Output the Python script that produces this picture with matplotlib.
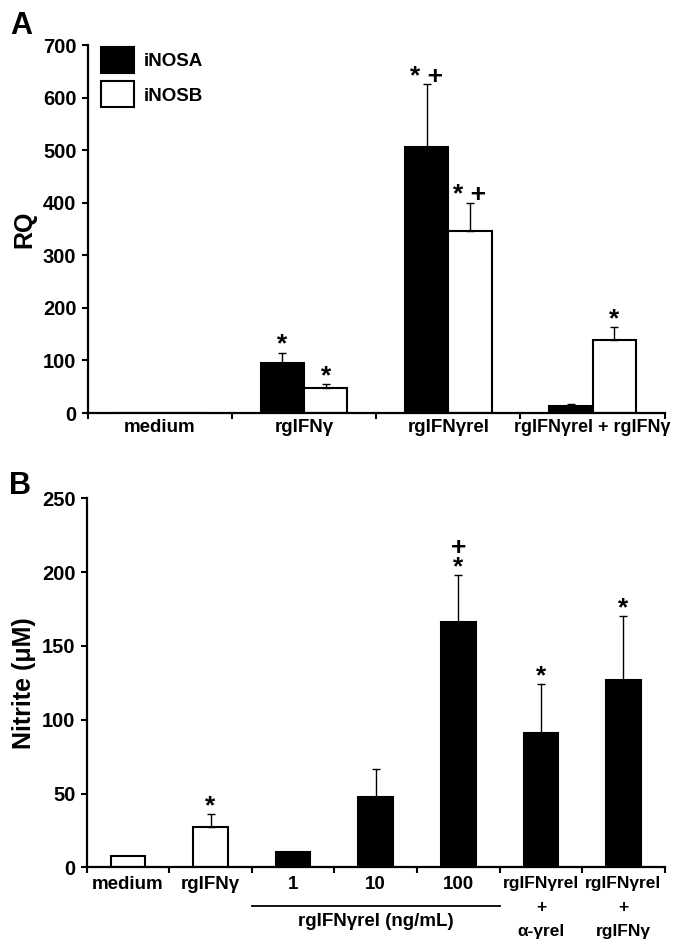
import matplotlib.pyplot as plt
import numpy as np

plt.rcParams['font.family'] = ['Liberation Sans', 'DejaVu Sans']
plt.rcParams['font.weight'] = 'bold'
plt.rcParams['axes.labelweight'] = 'bold'

# panel A data
groups_a = ['medium', 'rgIFNγ', 'rgIFNγrel', 'rgIFNγrel + rgIFNγ']
inosa = [0, 95, 506, 13]
inosa_err = [0, 20, 119, 4]
inosb = [0, 48, 347, 138]
inosb_err = [0, 7, 53, 26]
marks_a = ['', '*', '* +', '']
marks_b = ['', '*', '* +', '*']

# panel B data
groups_b = ['medium', 'rgIFNγ', '1', '10', '100',
            'rgIFNγrel\n+\nα-γrel', 'rgIFNγrel\n+\nrgIFNγ']
nitrite = [8, 27.5, 10.5, 47.5, 166, 91, 127]
nitrite_err = [0, 8.5, 0, 19, 32, 33, 43]
filled = [False, False, True, True, True, True, True]
marks_n = ['', '*', '', '', '+\n*', '*', '*']

fig = plt.figure(figsize=(6.79, 9.4), dpi=100)
axA = fig.add_axes([0.129, 0.5606, 0.850, 0.3915])
axB = fig.add_axes([0.1277, 0.0773, 0.8513, 0.3926])


def style(ax):
    for s in ['top', 'right']:
        ax.spines[s].set_visible(False)
    for s in ['left', 'bottom']:
        ax.spines[s].set_linewidth(1.6)
    ax.tick_params(axis='y', direction='out', length=4, width=1.5,
                   labelsize=14.5, pad=4)
    ax.tick_params(axis='x', which='major', direction='out', length=4,
                   width=1.5, labelbottom=False)
    ax.tick_params(axis='x', which='minor', length=0, labelsize=13.5, pad=4)


# ---- A ----
n = len(groups_a)
x = np.arange(n)
w = 0.3
ekw = dict(elinewidth=1, capthick=1)
axA.bar(x - w / 2, inosa, w, color='black', edgecolor='black', linewidth=1.5,
        label='iNOSA')
axA.bar(x + w / 2, inosb, w, color='white', edgecolor='black', linewidth=1.5,
        label='iNOSB')
for i in range(n):
    if inosa[i] > 0:
        axA.errorbar(x[i] - w / 2, inosa[i], yerr=[[0], [inosa_err[i]]],
                     fmt='none', ecolor='black', capsize=3, **ekw)
    if inosb[i] > 0:
        axA.errorbar(x[i] + w / 2, inosb[i], yerr=[[0], [inosb_err[i]]],
                     fmt='none', ecolor='black', capsize=3, **ekw)
    if marks_a[i]:
        axA.annotate(marks_a[i], (x[i] - w / 2, inosa[i] + inosa_err[i]),
                     xytext=(0, -3), textcoords='offset points',
                     ha='center', va='bottom', fontsize=19)
    if marks_b[i]:
        axA.annotate(marks_b[i], (x[i] + w / 2, inosb[i] + inosb_err[i]),
                     xytext=(0, -3), textcoords='offset points',
                     ha='center', va='bottom', fontsize=19)
axA.set_xlim(-0.5, n - 0.5)
axA.set_ylim(0, 700)
axA.set_yticks(range(0, 701, 100))
axA.set_xticks(np.arange(n + 1) - 0.5)
axA.set_xticks(x, minor=True)
axA.set_xticklabels(groups_a, minor=True)
style(axA)
axA.get_xticklabels(minor=True)[3].set_fontsize(13)
axA.set_ylabel('RQ', fontsize=18, labelpad=5)
leg = axA.legend(loc='upper left', bbox_to_anchor=(0.0, 1.03), frameon=False,
                 fontsize=13.5, handlelength=1.75, handleheight=1.75,
                 handletextpad=0.55, labelspacing=0.45, borderaxespad=0.3)
fig.text(0.015, 0.972, 'A', fontsize=22, fontweight='bold', va='center')

# ---- B ----
m = len(groups_b)
xb = np.arange(m)
wb = 0.42
cols = ['black' if f else 'white' for f in filled]
axB.bar(xb, nitrite, wb, color=cols, edgecolor='black', linewidth=1.5)
for i in range(m):
    if nitrite_err[i] > 0:
        axB.errorbar(xb[i], nitrite[i], yerr=[[0], [nitrite_err[i]]],
                     fmt='none', ecolor='black', capsize=3, **ekw)
    if marks_n[i]:
        axB.annotate(marks_n[i], (xb[i], nitrite[i] + nitrite_err[i]),
                     xytext=(0, -3), textcoords='offset points',
                     ha='center', va='bottom', fontsize=19, linespacing=0.75)
axB.set_xlim(-0.5, m - 0.5)
axB.set_ylim(0, 250)
axB.set_yticks(range(0, 251, 50))
axB.set_xticks(np.arange(m + 1) - 0.5)
axB.set_xticks(xb, minor=True)
axB.set_xticklabels(groups_b, minor=True, va='top', linespacing=1.75)
style(axB)
axB.tick_params(axis='x', which='minor', pad=6)
for lbl in axB.get_xticklabels(minor=True)[5:]:
    lbl.set_fontsize(12.5)
axB.set_ylabel('Nitrite (μM)', fontsize=18, labelpad=4)
axB.plot([1.5, 4.5], [-0.104, -0.104], color='black', lw=1.3,
         transform=axB.get_xaxis_transform(), clip_on=False)
axB.text(3.0, -0.123, 'rgIFNγrel (ng/mL)', transform=axB.get_xaxis_transform(),
         ha='center', va='top', fontsize=13.5)
fig.text(0.013, 0.483, 'B', fontsize=22, fontweight='bold', va='center')

fig.savefig('out.png', dpi=100)
